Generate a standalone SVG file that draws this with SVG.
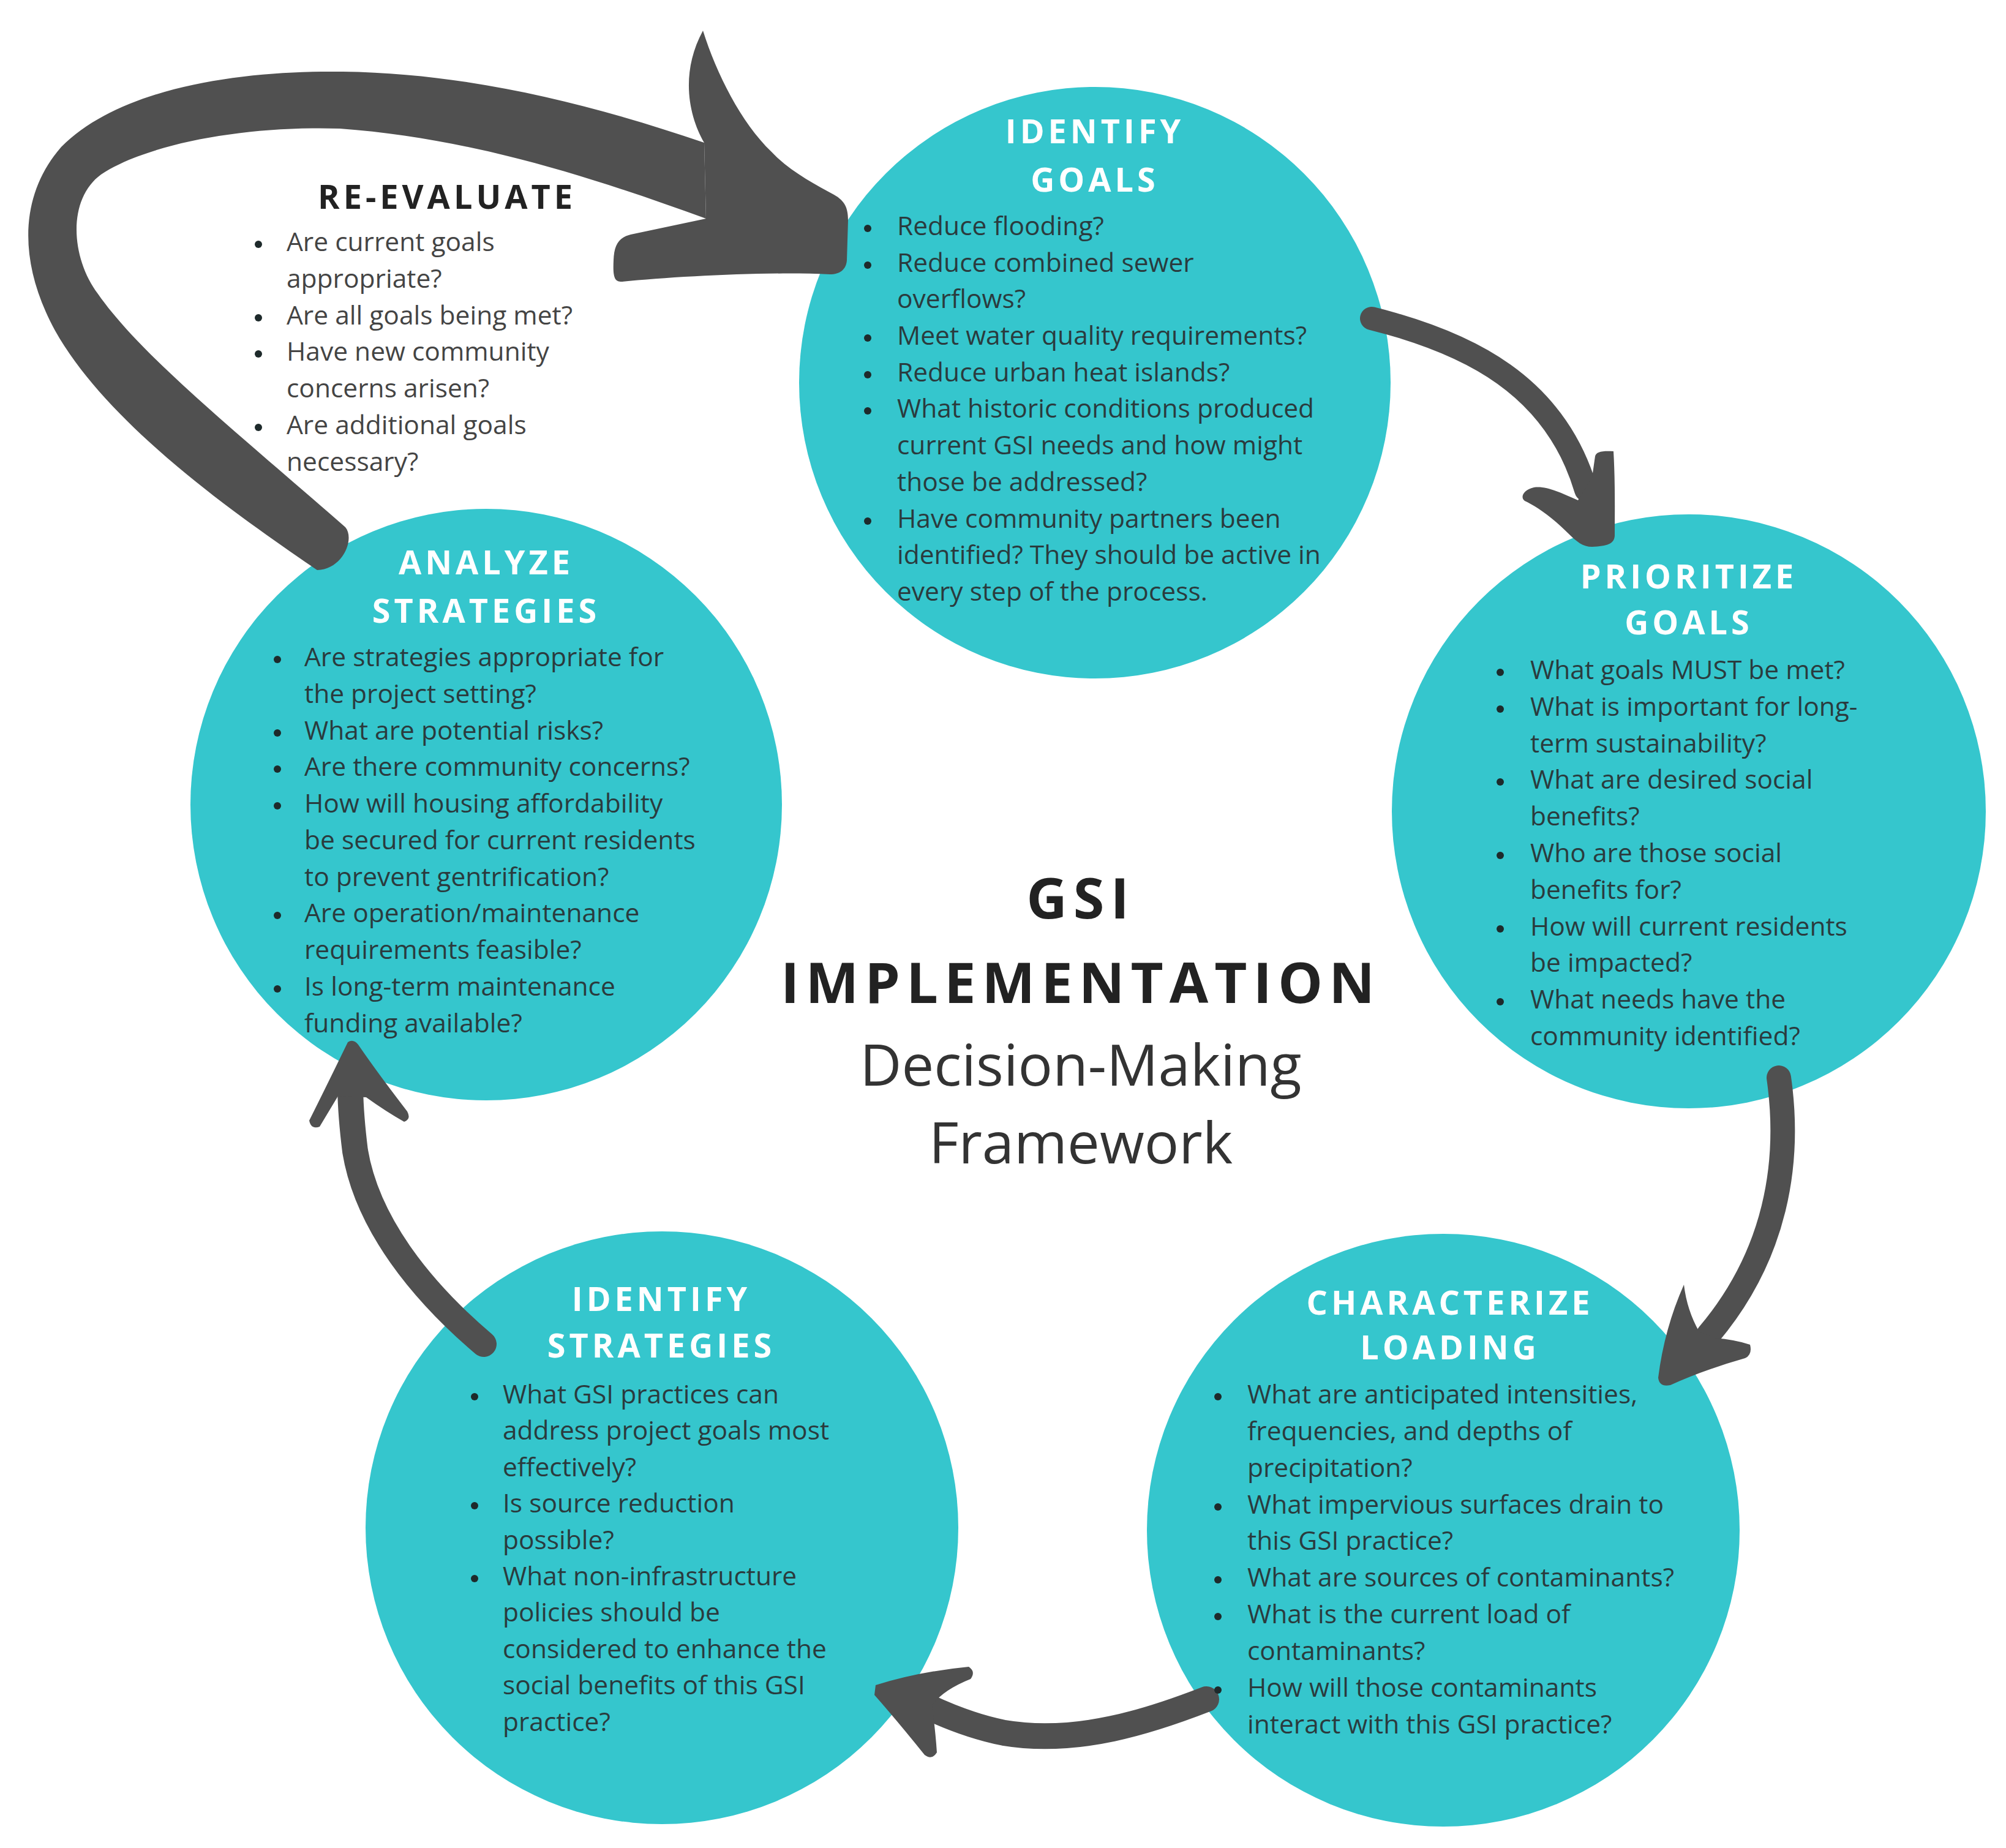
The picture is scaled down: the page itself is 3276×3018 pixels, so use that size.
<svg xmlns="http://www.w3.org/2000/svg" width="3276" height="3018" viewBox="0 0 3276 3018">
<style>
.node{fill:#35c6cd}
.arrow{fill:none;stroke:#505050;stroke-linecap:round}
.head{fill:#505050}
.hd{font-family:"Open Sans","DejaVu Sans",sans-serif;font-weight:700;font-size:54px;letter-spacing:6px;fill:#ffffff;text-anchor:middle}
.hd2{font-family:"Open Sans","DejaVu Sans",sans-serif;font-weight:700;font-size:54px;letter-spacing:6px;fill:#222222;text-anchor:middle}
.tx{font-family:"Open Sans","DejaVu Sans",sans-serif;font-size:42.5px;fill:#2a3b3e}
.tx2{font-family:"Open Sans","DejaVu Sans",sans-serif;font-size:42.5px;fill:#444444}
.bl{fill:#1e2a2b}
.t1{font-family:"Open Sans","DejaVu Sans",sans-serif;font-weight:700;font-size:92px;letter-spacing:10px;fill:#222222;text-anchor:middle}
.t2{font-family:"Open Sans","DejaVu Sans",sans-serif;font-size:94px;fill:#333333;text-anchor:middle}
</style>
<rect width="3276" height="3018" fill="#ffffff"/>

<g id="circles">
<circle class="node" cx="1788" cy="625" r="483"/>
<circle class="node" cx="2758" cy="1325" r="485"/>
<circle class="node" cx="794" cy="1314" r="483"/>
<circle class="node" cx="2357" cy="2499" r="484"/>
<circle class="node" cx="1081" cy="2495" r="484"/>
</g>

<g id="connectors">
<path class="head" d="M 518 931 C 400 850, 180 700, 90 540 C 30 430, 30 320, 100 240 C 200 140, 400 115, 560 117 C 760 120, 950 165, 1150 233 L 1153 357 C 950 283, 760 225, 555 210 C 400 205, 240 235, 165 285 C 110 325, 115 420, 160 480 C 230 580, 380 700, 564 861 C 580 880, 560 930, 518 931 Z"/>
<path class="head" d="M 1150 233 C 1125 190, 1110 120, 1148 50 C 1170 120, 1210 200, 1260 248 C 1290 280, 1330 300, 1362 318 C 1380 328, 1385 340, 1385 360 L 1383 425 C 1382 440, 1372 448, 1355 448 C 1250 443, 1100 452, 1015 460 C 1002 461, 1001 448, 1002 425 C 1003 400, 1010 388, 1030 383 L 1153 357 Z"/>

<path class="arrow" stroke-width="38" d="M 2240 520 C 2400 560, 2540 630, 2590 800"/>
<path class="head" d="M 2600 780 L 2605 745 C 2607 738, 2615 736, 2635 737 C 2638 790, 2637 840, 2637 875 C 2636 888, 2625 892, 2600 893 C 2585 893, 2575 885, 2560 870 C 2530 840, 2505 825, 2490 818 C 2482 812, 2488 800, 2505 796 C 2525 793, 2550 805, 2577 817 Z"/>

<path class="arrow" stroke-width="40" d="M 2905 1760 C 2925 1900, 2900 2050, 2790 2180"/>
<path class="head" d="M 2750 2098 Q 2755 2140 2775 2175 L 2800 2185 Q 2835 2188 2858 2196 Q 2862 2212 2850 2218 Q 2780 2238 2728 2262 Q 2710 2266 2708 2250 Q 2718 2170 2750 2098 Z"/>

<path class="arrow" stroke-width="42" d="M 1970 2775 C 1880 2810, 1760 2850, 1640 2830 C 1590 2820, 1540 2800, 1500 2780"/>
<path class="head" d="M 1430 2752 Q 1500 2730 1582 2722 Q 1594 2730 1585 2742 Q 1540 2760 1522 2785 Q 1528 2830 1530 2862 Q 1522 2875 1510 2866 Q 1465 2810 1428 2768 Z"/>

<path class="arrow" stroke-width="42" d="M 790 2195 C 690 2110, 600 2000, 580 1880 C 575 1840, 572 1800, 572 1770"/>
<path class="head" d="M 568 1702 Q 535 1770 505 1830 Q 508 1845 522 1840 Q 540 1810 552 1790 L 598 1792 Q 630 1815 660 1832 Q 672 1828 665 1815 Q 615 1750 585 1706 Q 577 1696 568 1702 Z"/>
</g>

<g id="identify-goals">
<text class="hd" x="1788" y="234">IDENTIFY</text>
<text class="hd" x="1788" y="313">GOALS</text>
<circle class="bl" cx="1417" cy="373" r="6"/>
<circle class="bl" cx="1417" cy="433" r="6"/>
<circle class="bl" cx="1417" cy="552" r="6"/>
<circle class="bl" cx="1417" cy="612" r="6"/>
<circle class="bl" cx="1417" cy="671" r="6"/>
<circle class="bl" cx="1417" cy="851" r="6"/>
<text class="tx" x="1465" y="384">Reduce flooding?</text>
<text class="tx" x="1465" y="444">Reduce combined sewer</text>
<text class="tx" x="1465" y="503">overflows?</text>
<text class="tx" x="1465" y="563">Meet water quality requirements?</text>
<text class="tx" x="1465" y="623">Reduce urban heat islands?</text>
<text class="tx" x="1465" y="682">What historic conditions produced</text>
<text class="tx" x="1465" y="742">current GSI needs and how might</text>
<text class="tx" x="1465" y="802">those be addressed?</text>
<text class="tx" x="1465" y="862">Have community partners been</text>
<text class="tx" x="1465" y="921">identified? They should be active in</text>
<text class="tx" x="1465" y="981">every step of the process.</text>
</g>

<g id="prioritize-goals">
<text class="hd" x="2758" y="961">PRIORITIZE</text>
<text class="hd" x="2758" y="1036">GOALS</text>
<circle class="bl" cx="2450" cy="1098" r="6"/>
<circle class="bl" cx="2450" cy="1158" r="6"/>
<circle class="bl" cx="2450" cy="1277" r="6"/>
<circle class="bl" cx="2450" cy="1397" r="6"/>
<circle class="bl" cx="2450" cy="1517" r="6"/>
<circle class="bl" cx="2450" cy="1636" r="6"/>
<text class="tx" x="2499" y="1109">What goals MUST be met?</text>
<text class="tx" x="2499" y="1169">What is important for long-</text>
<text class="tx" x="2499" y="1229">term sustainability?</text>
<text class="tx" x="2499" y="1288">What are desired social</text>
<text class="tx" x="2499" y="1348">benefits?</text>
<text class="tx" x="2499" y="1408">Who are those social</text>
<text class="tx" x="2499" y="1468">benefits for?</text>
<text class="tx" x="2499" y="1528">How will current residents</text>
<text class="tx" x="2499" y="1587">be impacted?</text>
<text class="tx" x="2499" y="1647">What needs have the</text>
<text class="tx" x="2499" y="1707">community identified?</text>
</g>

<g id="analyze-strategies">
<text class="hd" x="794" y="938">ANALYZE</text>
<text class="hd" x="794" y="1017">STRATEGIES</text>
<circle class="bl" cx="453" cy="1077" r="6"/>
<circle class="bl" cx="453" cy="1197" r="6"/>
<circle class="bl" cx="453" cy="1256" r="6"/>
<circle class="bl" cx="453" cy="1316" r="6"/>
<circle class="bl" cx="453" cy="1495" r="6"/>
<circle class="bl" cx="453" cy="1615" r="6"/>
<text class="tx" x="497" y="1088">Are strategies appropriate for</text>
<text class="tx" x="497" y="1148">the project setting?</text>
<text class="tx" x="497" y="1208">What are potential risks?</text>
<text class="tx" x="497" y="1267">Are there community concerns?</text>
<text class="tx" x="497" y="1327">How will housing affordability</text>
<text class="tx" x="497" y="1387">be secured for current residents</text>
<text class="tx" x="497" y="1447">to prevent gentrification?</text>
<text class="tx" x="497" y="1506">Are operation/maintenance</text>
<text class="tx" x="497" y="1566">requirements feasible?</text>
<text class="tx" x="497" y="1626">Is long-term maintenance</text>
<text class="tx" x="497" y="1686">funding available?</text>
</g>

<g id="identify-strategies">
<text class="hd" x="1080" y="2141">IDENTIFY</text>
<text class="hd" x="1080" y="2217">STRATEGIES</text>
<circle class="bl" cx="775" cy="2281" r="6"/>
<circle class="bl" cx="775" cy="2459" r="6"/>
<circle class="bl" cx="775" cy="2578" r="6"/>
<text class="tx" x="821" y="2292">What GSI practices can</text>
<text class="tx" x="821" y="2351">address project goals most</text>
<text class="tx" x="821" y="2411">effectively?</text>
<text class="tx" x="821" y="2470">Is source reduction</text>
<text class="tx" x="821" y="2530">possible?</text>
<text class="tx" x="821" y="2589">What non-infrastructure</text>
<text class="tx" x="821" y="2648">policies should be</text>
<text class="tx" x="821" y="2708">considered to enhance the</text>
<text class="tx" x="821" y="2767">social benefits of this GSI</text>
<text class="tx" x="821" y="2827">practice?</text>
</g>

<g id="characterize-loading">
<text class="hd" x="2368" y="2147">CHARACTERIZE</text>
<text class="hd" x="2368" y="2220">LOADING</text>
<circle class="bl" cx="1989" cy="2281" r="6"/>
<circle class="bl" cx="1989" cy="2461" r="6"/>
<circle class="bl" cx="1989" cy="2580" r="6"/>
<circle class="bl" cx="1989" cy="2640" r="6"/>
<circle class="bl" cx="1989" cy="2760" r="6"/>
<text class="tx" x="2037" y="2292">What are anticipated intensities,</text>
<text class="tx" x="2037" y="2352">frequencies, and depths of</text>
<text class="tx" x="2037" y="2412">precipitation?</text>
<text class="tx" x="2037" y="2472">What impervious surfaces drain to</text>
<text class="tx" x="2037" y="2531">this GSI practice?</text>
<text class="tx" x="2037" y="2591">What are sources of contaminants?</text>
<text class="tx" x="2037" y="2651">What is the current load of</text>
<text class="tx" x="2037" y="2711">contaminants?</text>
<text class="tx" x="2037" y="2771">How will those contaminants</text>
<text class="tx" x="2037" y="2831">interact with this GSI practice?</text>
</g>

<g id="re-evaluate">
<text class="hd2" x="730" y="341">RE-EVALUATE</text>
<circle class="bl" cx="422" cy="399" r="6"/>
<circle class="bl" cx="422" cy="519" r="6"/>
<circle class="bl" cx="422" cy="578" r="6"/>
<circle class="bl" cx="422" cy="698" r="6"/>
<text class="tx2" x="468" y="410">Are current goals</text>
<text class="tx2" x="468" y="470">appropriate?</text>
<text class="tx2" x="468" y="530">Are all goals being met?</text>
<text class="tx2" x="468" y="589">Have new community</text>
<text class="tx2" x="468" y="649">concerns arisen?</text>
<text class="tx2" x="468" y="709">Are additional goals</text>
<text class="tx2" x="468" y="769">necessary?</text>
</g>

<g id="title">
<text class="t1" x="1765" y="1500">GSI</text>
<text class="t1" x="1765" y="1638">IMPLEMENTATION</text>
<text class="t2" x="1765" y="1773">Decision-Making</text>
<text class="t2" x="1765" y="1900">Framework</text>
</g>
</svg>
